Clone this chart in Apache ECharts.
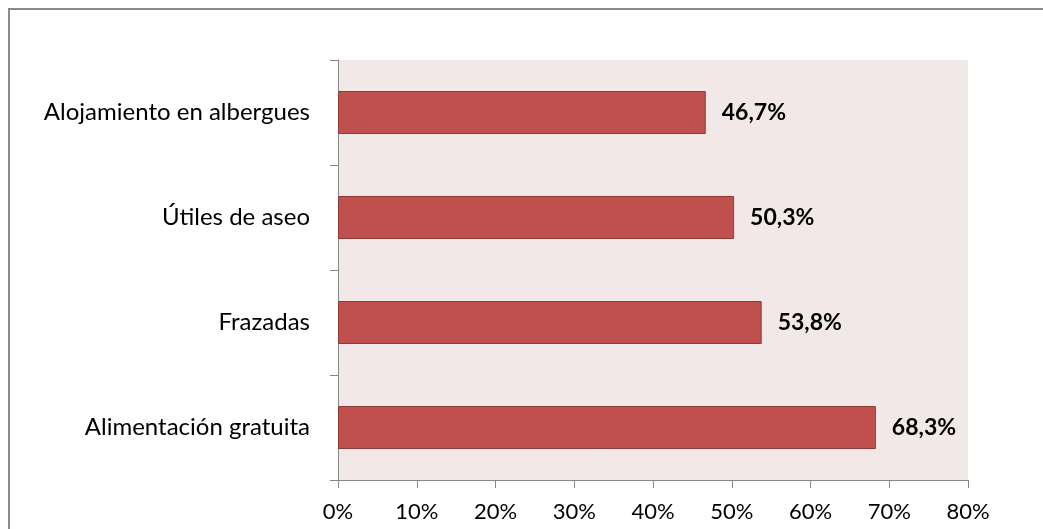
<!DOCTYPE html>
<html>
<head>
<meta charset="utf-8">
<script src="https://cdn.jsdelivr.net/npm/echarts@6/dist/echarts.min.js"></script>
<style>
  html, body { margin: 0; padding: 0; background: #fff; }
  #main { width: 1043px; height: 529px; }
</style>
</head>
<body>
<div id="main"></div>
<script>
// categories bottom -> top
const categories = ['Alimentación gratuita', 'Frazadas', 'Útiles de aseo', 'Alojamiento en albergues']
const values = [68.3, 53.8, 50.3, 46.7]
const xTicks = [0, 10, 20, 30, 40, 50, 60, 70, 80]

const chart = echarts.init(document.getElementById('main'))
const font = 'Lato, "Open Sans", sans-serif'

const option = {
  animation: false,
  graphic: [
    {
      type: 'rect',
      shape: { x: 9, y: 9, width: 1200, height: 700 },
      style: { fill: null, stroke: '#8a8a8a', lineWidth: 2 },
      z: 0
    }
  ],
  grid: {
    left: 338, top: 60, width: 630, height: 420,
    show: true, backgroundColor: '#F2E8E8', borderWidth: 0
  },
  xAxis: {
    type: 'value',
    min: 0, max: xTicks[xTicks.length - 1], interval: 10,
    splitLine: { show: false },
    axisLine: { show: true, lineStyle: { color: '#868686', width: 1 } },
    axisTick: { show: true, length: 8, lineStyle: { color: '#868686' } },
    axisLabel: {
      margin: 21, color: '#000', fontSize: 22, fontFamily: font,
      formatter: v => v + '%'
    }
  },
  yAxis: {
    type: 'category',
    data: categories,
    axisLine: { show: true, lineStyle: { color: '#868686', width: 1 } },
    axisTick: { show: true, length: 8, lineStyle: { color: '#868686' } },
    axisLabel: { margin: 28, color: '#000', fontSize: 24, fontFamily: font }
  },
  series: [
    {
      type: 'bar',
      data: values,
      barWidth: 43,
      itemStyle: { color: '#C0504D', borderColor: '#8E3A38', borderWidth: 1 },
      label: {
        show: true, position: 'right', distance: 16,
        color: '#000', fontSize: 23, fontWeight: 'bold', fontFamily: font,
        formatter: p => p.value.toFixed(1).replace('.', ',') + '%'
      }
    }
  ]
}
chart.setOption(option)
</script>
</body>
</html>
